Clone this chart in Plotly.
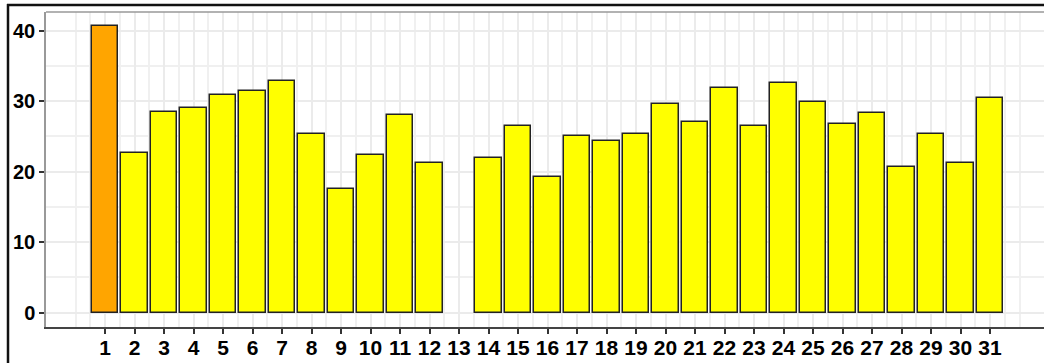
import plotly.graph_objects as go

days = list(range(1, 32))
values = [40.7, 22.6, 28.5, 29.1, 30.9, 31.5, 32.8, 25.3, 17.5, 22.3, 28.0, 21.3,
          None, 22.0, 26.5, 19.2, 25.0, 24.4, 25.3, 29.6, 27.1, 31.9, 26.5, 32.6,
          29.9, 26.8, 28.3, 20.6, 25.3, 21.3, 30.5]
bar_colors = ["#FFA500"] + ["#FFFF00"] * 30
y_ticks = [0, 10, 20, 30, 40]

W, H = 1044, 363
L, T, B = 46, 12, 36
pw, ph = W - L, H - T - B

fig = go.Figure()
fig.add_trace(go.Bar(
    x=days, y=values, width=0.9,
    marker=dict(color=bar_colors, line=dict(color="#222222", width=1.5)),
    hoverinfo="x+y",
))

font_fam = "Liberation Sans, Arial, sans-serif"

fig.update_layout(
    width=W, height=H,
    margin=dict(l=L, r=0, t=T, b=B, pad=0),
    paper_bgcolor="white", plot_bgcolor="white",
    showlegend=False,
    bargap=0,
    xaxis=dict(
        range=[-1.0, 32.83],
        tickmode="array", tickvals=days, ticktext=[str(d) for d in days],
        ticks="outside", ticklen=5, tickwidth=1.5, tickcolor="#333333",
        tickfont=dict(family=font_fam, size=21, color="black", weight="bold"),
        ticklabelstandoff=-4,
        showgrid=True, gridcolor="#EBEBEB", gridwidth=1.5,
        showline=True, linecolor="#444444", linewidth=1.5,
        zeroline=False, fixedrange=True, automargin=False,
        minor=dict(tickmode="array",
                   tickvals=[0, 32] + [i + 0.5 for i in range(0, 32)],
                   showgrid=True, gridcolor="#F0F0F0", gridwidth=1.5, ticks=""),
    ),
    yaxis=dict(
        range=[-2.03, 42.65],
        tickmode="array", tickvals=y_ticks, ticktext=[str(v) for v in y_ticks],
        ticks="outside", ticklen=5, tickwidth=1.5, tickcolor="#333333",
        tickfont=dict(family=font_fam, size=20, color="black", weight="bold"),
        showgrid=True, gridcolor="#EBEBEB", gridwidth=1.5,
        showline=True, linecolor="#999999", linewidth=1.5,
        zeroline=False, fixedrange=True, automargin=False,
        minor=dict(tickmode="array", tickvals=[5, 15, 25, 35],
                   showgrid=True, gridcolor="#F0F0F0", gridwidth=1.5, ticks=""),
    ),
)

def px_x(x):
    return (x - L) / pw

def px_y(y):
    return (H - B - y) / ph

shapes = [
    dict(type="line", xref="paper", yref="paper", x0=0, x1=1, y0=1, y1=1,
         line=dict(color="#999999", width=1.5)),
    dict(type="line", xref="paper", yref="paper", x0=px_x(7), x1=1.0,
         y0=px_y(5), y1=px_y(5), line=dict(color="#111111", width=2.5)),
    dict(type="line", xref="paper", yref="paper", x0=px_x(8), x1=px_x(8),
         y0=px_y(4), y1=px_y(363), line=dict(color="#111111", width=2.5)),
]
fig.update_layout(shapes=shapes)

fig.write_html(
    "out.html",
    config={"displayModeBar": False},
    post_script="document.body.style.margin='0';document.body.style.overflow='hidden';",
)
